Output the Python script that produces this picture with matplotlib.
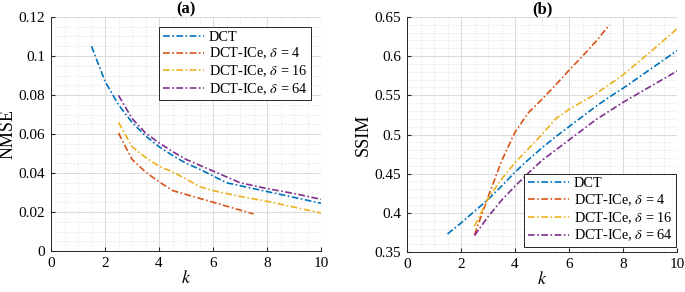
import matplotlib
matplotlib.use("Agg")
import matplotlib.pyplot as plt
from matplotlib.ticker import MultipleLocator
import numpy as np

plt.rcParams['font.family'] = ['Liberation Serif', 'DejaVu Serif']
plt.rcParams['mathtext.fontset'] = 'stix'

colors = ['#0072BD', '#D95319', '#EDB120', '#7E2F8E']
labels = ['DCT', r'DCT-ICe, $\delta$ = 4', r'DCT-ICe, $\delta$ = 16', r'DCT-ICe, $\delta$ = 64']

# NMSE (a)
k_dct = [1.5, 2, 2.5, 3, 3.5, 4, 4.5, 5, 5.5, 6, 6.5, 7, 7.5, 8, 8.5, 9, 9.5, 10]
nmse_dct = [0.105, 0.087, 0.075, 0.066, 0.059, 0.0535, 0.049, 0.045, 0.042, 0.0385, 0.035, 0.0335, 0.032, 0.0305, 0.029, 0.0275, 0.026, 0.0245]
k4 = [2.5, 3, 3.5, 4, 4.5, 5, 5.5, 6, 6.5, 7, 7.5]
nmse4 = [0.0605, 0.047, 0.0405, 0.0355, 0.031, 0.029, 0.027, 0.025, 0.023, 0.021, 0.019]
k16 = [2.5, 3, 3.5, 4, 4.5, 5, 5.5, 6, 7, 8, 9, 10]
nmse16 = [0.066, 0.0535, 0.048, 0.0435, 0.0405, 0.037, 0.033, 0.031, 0.028, 0.0255, 0.0225, 0.0195]
k64 = [2.5, 3, 3.5, 4, 4.5, 5, 5.5, 6, 6.5, 7, 8, 9, 10]
nmse64 = [0.0798, 0.068, 0.0605, 0.0555, 0.051, 0.047, 0.044, 0.041, 0.038, 0.035, 0.032, 0.0295, 0.0265]

# SSIM (b)
ssim_dct = [0.373, 0.387, 0.402, 0.417, 0.434, 0.452, 0.468, 0.483, 0.497, 0.51, 0.523, 0.536, 0.548, 0.559, 0.571, 0.583, 0.595, 0.607]
ssim4 = [0.372, 0.42, 0.466, 0.503, 0.528, 0.545, 0.563, 0.582, 0.6, 0.619, 0.64]
ssim16 = [0.383, 0.418, 0.443, 0.464, 0.482, 0.5, 0.52, 0.532, 0.552, 0.576, 0.605, 0.635]
ssim64 = [0.371, 0.395, 0.416, 0.434, 0.451, 0.467, 0.48, 0.493, 0.506, 0.519, 0.541, 0.561, 0.581]

fig = plt.figure(figsize=(6.85, 2.92), dpi=100)
W, H = 685, 292
axa = fig.add_axes([51/W, 1-251/H, 270/W, 234/H])
axb = fig.add_axes([407/W, 1-252/H, 270/W, 235/H])

LS = (0, (4, 1.5, 1, 1.5))

def style(ax):
    ax.set_xlim(0, 10)
    ax.xaxis.set_major_locator(MultipleLocator(2))
    ax.xaxis.set_minor_locator(MultipleLocator(0.5))
    ax.grid(True, which='major', color='#dcdcdc', linewidth=0.8)
    ax.grid(True, which='minor', color='#dcdcdc', linewidth=0.6, linestyle=':')
    ax.set_axisbelow(True)
    ax.tick_params(which='both', direction='in', labelsize=11, color='#262626', top=False, right=False)
    ax.tick_params(which='minor', length=0)
    ax.tick_params(which='major', length=3, pad=4)
    for s in ['top', 'right']:
        ax.spines[s].set_visible(False)
    for s in ['left', 'bottom']:
        ax.spines[s].set_color('#262626')
        ax.spines[s].set_linewidth(0.7)
    ax.set_xlabel('$k$', fontsize=13, labelpad=0)

series_a = [(k_dct, nmse_dct), (k4, nmse4), (k16, nmse16), (k64, nmse64)]
series_b = [(k_dct, ssim_dct), (k4, ssim4), (k16, ssim16), (k64, ssim64)]

for (x, y), c, l in zip(series_a, colors, labels):
    axa.plot(x, y, linestyle=LS, color=c, lw=1.2, label=l)
for (x, y), c, l in zip(series_b, colors, labels):
    axb.plot(x, y, linestyle=LS, color=c, lw=1.2, label=l)

style(axa)
style(axb)
axa.set_ylim(0, 0.12)
axa.set_yticks([0, 0.02, 0.04, 0.06, 0.08, 0.1, 0.12])
axa.set_yticklabels(['0', '0.02', '0.04', '0.06', '0.08', '0.1', '0.12'])
axa.yaxis.set_minor_locator(MultipleLocator(0.005))
axa.set_ylabel('NMSE', fontsize=13, labelpad=2)
axa.set_title('(a)', fontweight='bold', fontsize=12, pad=1)

axb.set_ylim(0.35, 0.65)
axb.set_yticks([0.35, 0.4, 0.45, 0.5, 0.55, 0.6, 0.65])
axb.set_yticklabels(['0.35', '0.4', '0.45', '0.5', '0.55', '0.6', '0.65'])
axb.yaxis.set_minor_locator(MultipleLocator(0.01))
axb.set_ylabel('SSIM', fontsize=13, labelpad=2)
axb.set_title('(b)', fontweight='bold', fontsize=12, pad=1)

legkw = dict(fontsize=10.3, frameon=True, fancybox=False, handlelength=2.9, handletextpad=0.3,
             borderpad=0.25, labelspacing=0.15, borderaxespad=0, framealpha=1)
lga = axa.legend(loc='upper right', bbox_to_anchor=(311/W, 1-27/H), bbox_transform=fig.transFigure, **legkw)
lgb = axb.legend(loc='lower right', bbox_to_anchor=(676/W, 1-247/H), bbox_transform=fig.transFigure, **legkw)
for lg in (lga, lgb):
    lg.get_frame().set_edgecolor('#262626')
    lg.get_frame().set_linewidth(0.7)

fig.savefig('out.png', dpi=100)
